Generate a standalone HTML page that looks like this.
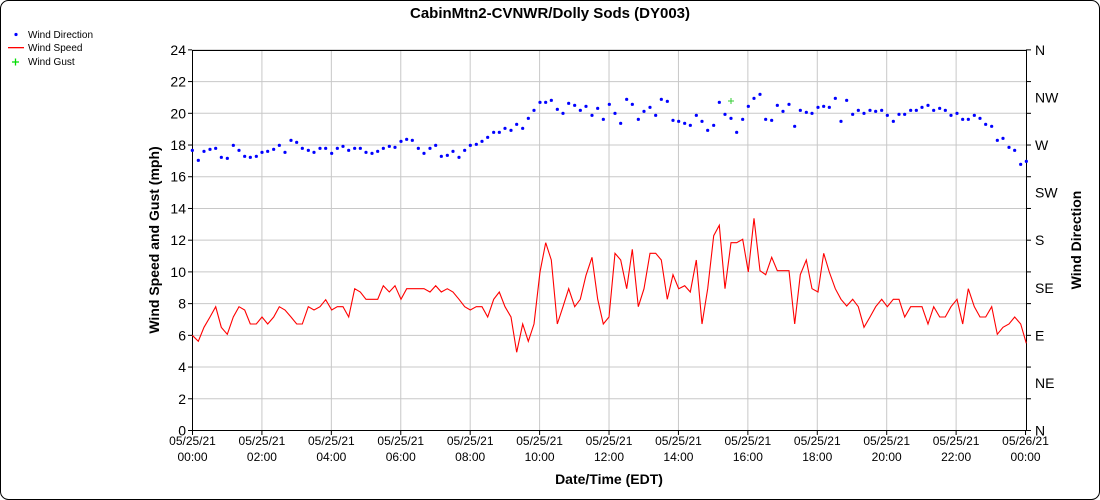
<!DOCTYPE html>
<html><head><meta charset="utf-8"><style>
html,body{margin:0;padding:0;background:#fff;}
svg{display:block;font-family:"Liberation Sans",Arial,sans-serif;}
</style></head><body>
<svg id="s" width="1100" height="500" viewBox="0 0 1100 500" xmlns="http://www.w3.org/2000/svg">
<rect x="0.5" y="0.5" width="1099" height="499" rx="8" fill="#fff" stroke="#000"/>
<text x="550" y="18" text-anchor="middle" font-size="15" font-weight="bold">CabinMtn2-CVNWR/Dolly Sods (DY003)</text>
<g id="grid" stroke="#c8c8c8" stroke-width="1"></g>
<line x1="192.5" y1="50" x2="192.5" y2="431" stroke="#000"/>
<line x1="192" y1="50.5" x2="1026" y2="50.5" stroke="#000"/>
<line x1="192" y1="430.5" x2="1026" y2="430.5" stroke="#000"/>
<line x1="1026.5" y1="50" x2="1026.5" y2="431" stroke="#000"/>
<g id="lt" font-size="14" text-anchor="end"></g>
<g id="rt" font-size="14"></g>
<g id="xt" font-size="12" text-anchor="middle"></g>
<text transform="translate(159,240) rotate(-90)" text-anchor="middle" font-size="14" font-weight="bold">Wind Speed and Gust (mph)</text>
<text transform="translate(1081,240) rotate(-90)" text-anchor="middle" font-size="14" font-weight="bold">Wind Direction</text>
<text x="609" y="484" text-anchor="middle" font-size="14" font-weight="bold">Date/Time (EDT)</text>
<g font-size="10">
<circle cx="16" cy="34.5" r="1.6" fill="#00f"/><text x="28" y="38">Wind Direction</text>
<rect x="8" y="47" width="16" height="1.3" fill="#f00"/><text x="28" y="51">Wind Speed</text>
<path d="M12 62h7M15.5 58.5v7" stroke="#0d0" stroke-width="1.3"/><text x="28" y="65">Wind Gust</text>
</g>
<polyline id="spd" fill="none" stroke="#f00" stroke-width="1.1"/>
<g id="dir" fill="#00f"></g>
<path d="M728 101h6M731 98v6" stroke="#3c3" stroke-width="1"/>
</svg>
<script>
var NS="http://www.w3.org/2000/svg";
function el(t,a,p,txt){var e=document.createElementNS(NS,t);for(var k in a)e.setAttribute(k,a[k]);if(txt)e.textContent=txt;document.getElementById(p).appendChild(e);return e;}
var y0=430.5,sc=15.86;
for(var v=0;v<=24;v+=2){var y=y0-v*sc;if(v>0)el('line',{x1:192,x2:1026,y1:y,y2:y},'grid');el('line',{x1:188,x2:192,y1:y,y2:y,stroke:'#000'},'grid');el('text',{x:186,y:y+5},'lt',String(v));el('line',{x1:1026,x2:1031,y1:y,y2:y,stroke:'#000'},'grid');}
var dl=['N','NE','E','SE','S','SW','W','NW','N'];
for(var i=0;i<9;i++){var y=y0-i*47.57;el('text',{x:1035,y:y+5},'rt',dl[i]);}
var hrs=['00:00','02:00','04:00','06:00','08:00','10:00','12:00','14:00','16:00','18:00','20:00','22:00','00:00'];
for(var i=0;i<13;i++){var x=192.5+i*69.42;if(i>0&&i<12)el('line',{x1:x,x2:x,y1:50,y2:430},'grid');el('line',{x1:x,x2:x,y1:430,y2:435,stroke:'#000'},'grid');el('text',{x:x,y:445},'xt',i==12?'05/26/21':'05/25/21');el('text',{x:x,y:461},'xt',hrs[i]);}
var s1=[[37,766],[55,784],[72,742],[90,711],[107,680],[124,742],[142,763],[160,711],[177,680],[194,690],[211,732],[229,732],[246,711],[263,732],[281,711],[298,680],[315,690],[333,711],[350,732],[367,732],[385,680],[402,690],[420,680],[437,659],[455,690],[472,680],[489,680],[506,711],[524,626],[541,636],[558,658],[576,658],[593,658],[610,617],[628,636],[645,617],[663,658],[680,626],[697,626],[715,626],[732,626],[750,636],[767,617],[784,636],[802,626],[819,636],[837,658],[854,680],[871,690],[889,680],[906,680],[923,711],[941,658],[958,636],[975,680],[993,711],[1010,817],[1028,732],[1045,784],[1062,732],[1080,576],[1097,488],[1114,540],[1132,732],[1149,680],[1166,626],[1184,680],[1201,658],[1218,586],[1236,532],[1253,658]];
var s2=[[10,732],[27,711],[45,520],[62,540],[80,626],[97,508],[115,680],[132,626],[150,520],[167,520],[184,540],[202,658],[219,584],[236,626],[254,617],[271,636],[289,540],[306,732],[323,626],[341,467],[358,436],[375,626],[393,488],[410,488],[428,478],[445,576],[462,415],[480,572],[497,584],[515,532],[532,572],[549,572],[567,572],[584,732],[601,584],[619,540],[636,626],[654,636],[671,520],[688,576],[706,626],[723,658],[740,678],[758,658],[775,680],[792,742],[810,711],[827,680],[845,658],[862,680],[880,658],[897,658],[914,711],[932,680],[949,680],[966,680],[984,732],[1001,680],[1019,711],[1036,711],[1053,680],[1071,658],[1088,732],[1105,626],[1123,680],[1140,711],[1157,711],[1175,680],[1192,763],[1209,742],[1227,732],[1244,711],[1262,732],[1279,790]];
var pts=s1.map(function(p){return (180+p[0]/3).toFixed(1)+','+(80+p[1]/3).toFixed(1)}).concat(s2.map(function(p){return (600+p[0]/3).toFixed(1)+','+(80+p[1]/3).toFixed(1)}));
document.getElementById('spd').setAttribute('points',pts.join(' '));
var d1=[[37,211],[55,241],[72,214],[90,208],[107,205],[124,232],[142,235],[160,196],[177,211],[194,229],[211,232],[229,229],[246,217],[263,214],[281,208],[298,196],[315,217],[333,181],[350,187],[367,205],[385,211],[402,217],[420,205],[437,205],[455,220],[472,205],[489,199],[506,211],[524,205],[541,205],[558,217],[576,220],[593,214],[610,205],[628,199],[645,202],[663,184],[680,178],[697,181],[715,205],[732,220],[750,205],[767,196],[784,229],[802,226],[819,214],[837,232],[854,211],[871,196],[889,193],[906,184],[923,172],[941,157],[958,157],[975,145],[993,151],[1010,133],[1028,145],[1045,115],[1062,91],[1080,67],[1097,67],[1114,61],[1132,88],[1149,100],[1166,70],[1184,76],[1201,91],[1218,79],[1236,106],[1253,85],[1270,118],[1288,73]];
var d2=[[45,100],[62,130],[80,58],[97,73],[115,118],[132,94],[150,82],[167,106],[184,58],[202,64],[219,121],[236,124],[254,130],[271,136],[289,106],[306,124],[323,151],[341,136],[358,67],[375,103],[393,115],[410,157],[428,118],[445,79],[462,55],[480,43],[497,118],[515,121],[532,76],[549,94],[567,73],[584,139],[601,91],[619,97],[636,100],[654,82],[671,79],[688,82],[706,55],[723,124],[740,61],[758,103],[775,91],[792,100],[810,91],[827,94],[845,91],[862,106],[880,124],[897,103],[914,103],[932,91],[949,91],[966,82],[984,76],[1001,91],[1019,85],[1036,91],[1053,106],[1071,100],[1088,118],[1105,118],[1123,106],[1140,115],[1157,133],[1175,139],[1192,181],[1209,175],[1227,202],[1244,211],[1262,253],[1279,244]];
d1.forEach(function(p){el('circle',{cx:180+p[0]/3,cy:80+p[1]/3,r:1.6},'dir');});
d2.forEach(function(p){el('circle',{cx:600+p[0]/3,cy:80+p[1]/3,r:1.6},'dir');});
</script>
</body></html>
